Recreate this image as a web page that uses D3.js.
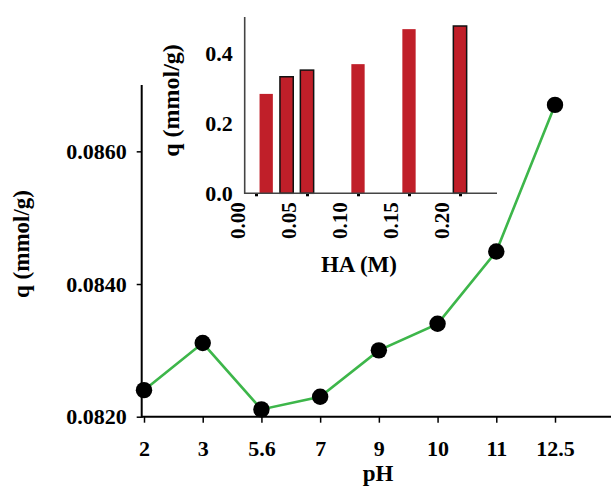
<!DOCTYPE html>
<html>
<head>
<meta charset="utf-8">
<script src="https://cdn.jsdelivr.net/npm/d3@7"></script>
<style>
  html, body { margin: 0; padding: 0; background: #fff; }
  svg { display: block; }
  text { font-family: "Liberation Serif", "Times New Roman", serif; font-weight: bold; fill: #000; }
</style>
</head>
<body>
<svg id="chart" width="612" height="487"></svg>
<script>
// Main series: adsorption capacity against pH
const phLabels = ["2", "3", "5.6", "7", "9", "10", "11", "12.5"];
const qValues = [0.08240, 0.08311, 0.08211, 0.08230, 0.08300, 0.08340, 0.08449, 0.08670];
const qTicks = [0.0820, 0.0840, 0.0860];

// Inset series: adsorption capacity against HA concentration
const haConc = [0.01, 0.03, 0.05, 0.10, 0.15, 0.20];
const haQ = [0.284, 0.333, 0.352, 0.369, 0.469, 0.478];
const haTicks = [0.00, 0.05, 0.10, 0.15, 0.20];
const haQTicks = [0.0, 0.2, 0.4];

const svg = d3.select("#chart");

// ---------- main chart ----------
const x = d3.scalePoint().domain(phLabels).range([144, 555]);
const y = d3.scaleLinear().domain([0.0820, 0.0870]).range([416.7, 85]);

const gMain = svg.append("g");

// x axis
const xAxis = gMain.append("g")
  .attr("transform", "translate(0,416.7)")
  .call(d3.axisBottom(x).tickSize(6).tickPadding(26));
xAxis.select(".domain").remove();
xAxis.selectAll(".tick line").attr("stroke", "#000").attr("stroke-width", 1.5);
xAxis.selectAll("text").style("font-size", "22px").attr("dy", "0.35em");
gMain.append("line")
  .attr("x1", 141.7).attr("x2", 611).attr("y1", 416.7).attr("y2", 416.7)
  .attr("stroke", "#000").attr("stroke-width", 2);

// y axis
const yAxis = gMain.append("g")
  .attr("transform", "translate(141.7,0)")
  .call(d3.axisLeft(y).tickValues(qTicks).tickFormat(d3.format(".4f")).tickSize(5).tickPadding(10));
yAxis.select(".domain").remove();
yAxis.selectAll(".tick line").attr("stroke", "#000").attr("stroke-width", 1.5);
yAxis.selectAll("text").style("font-size", "22px");
gMain.append("line")
  .attr("x1", 141.7).attr("x2", 141.7).attr("y1", 85).attr("y2", 417.7)
  .attr("stroke", "#000").attr("stroke-width", 2);

// axis titles
gMain.append("text")
  .attr("x", 378).attr("y", 481)
  .attr("text-anchor", "middle")
  .style("font-size", "23px")
  .text("pH");
gMain.append("text")
  .attr("transform", "translate(29,244) rotate(-90)")
  .attr("text-anchor", "middle")
  .style("font-size", "23px")
  .text("q (mmol/g)");

// line and points
const line = d3.line()
  .x((d, i) => x(phLabels[i]))
  .y(d => y(d));
gMain.append("path")
  .datum(qValues)
  .attr("d", line)
  .attr("fill", "none")
  .attr("stroke", "#3DB64A")
  .attr("stroke-width", 2.6);
gMain.selectAll("circle.pt")
  .data(qValues)
  .join("circle")
  .attr("class", "pt")
  .attr("cx", (d, i) => x(phLabels[i]))
  .attr("cy", d => y(d))
  .attr("r", 8.2)
  .attr("fill", "#000");

// ---------- inset bar chart ----------
const ix = d3.scaleLinear().domain([0, 0.05]).range([256, 307]);
const iy = d3.scaleLinear().domain([0, 0.5]).range([193.3, 18.3]);
const barW = 13.3;
const outlined = new Set([1, 2, 5]);

const gIn = svg.append("g");

gIn.selectAll("rect.bar")
  .data(haQ)
  .join("rect")
  .attr("class", "bar")
  .attr("x", (d, i) => ix(haConc[i]) - barW / 2)
  .attr("width", barW)
  .attr("y", d => iy(d))
  .attr("height", d => iy(0) - iy(d))
  .attr("fill", "#C01F29")
  .attr("stroke", (d, i) => outlined.has(i) ? "#111" : "none")
  .attr("stroke-width", 1.5);

// inset x axis (rotated labels sit to the left of their ticks)
const ixAxis = gIn.append("g")
  .attr("transform", "translate(0,193.3)")
  .call(d3.axisBottom(ix).tickValues(haTicks).tickFormat(d3.format(".2f")).tickSize(3).tickPadding(0));
ixAxis.select(".domain").remove();
ixAxis.selectAll(".tick line").attr("stroke", "#000").attr("stroke-width", 3);
ixAxis.selectAll("text")
  .style("font-size", "21px")
  .attr("text-anchor", "end")
  .attr("transform", "translate(-19,9) rotate(-90)")
  .attr("x", 0).attr("y", 0).attr("dy", "0.35em");
gIn.append("line")
  .attr("x1", 244.7).attr("x2", 497).attr("y1", 193.3).attr("y2", 193.3)
  .attr("stroke", "#444").attr("stroke-width", 1.6);

// inset y axis
const iyAxis = gIn.append("g")
  .attr("transform", "translate(244.7,0)")
  .call(d3.axisLeft(iy).tickValues(haQTicks).tickFormat(d3.format(".1f")).tickSize(0).tickPadding(12));
iyAxis.select(".domain").remove();
iyAxis.selectAll("text").style("font-size", "22px");
gIn.append("line")
  .attr("x1", 244.7).attr("x2", 244.7).attr("y1", 17).attr("y2", 194)
  .attr("stroke", "#444").attr("stroke-width", 1.6);

// inset titles
gIn.append("text")
  .attr("x", 359).attr("y", 271.5)
  .attr("text-anchor", "middle")
  .style("font-size", "23px")
  .text("HA (M)");
gIn.append("text")
  .attr("transform", "translate(179,100.5) rotate(-90)")
  .attr("text-anchor", "middle")
  .style("font-size", "24px")
  .text("q (mmol/g)");
</script>
</body>
</html>
